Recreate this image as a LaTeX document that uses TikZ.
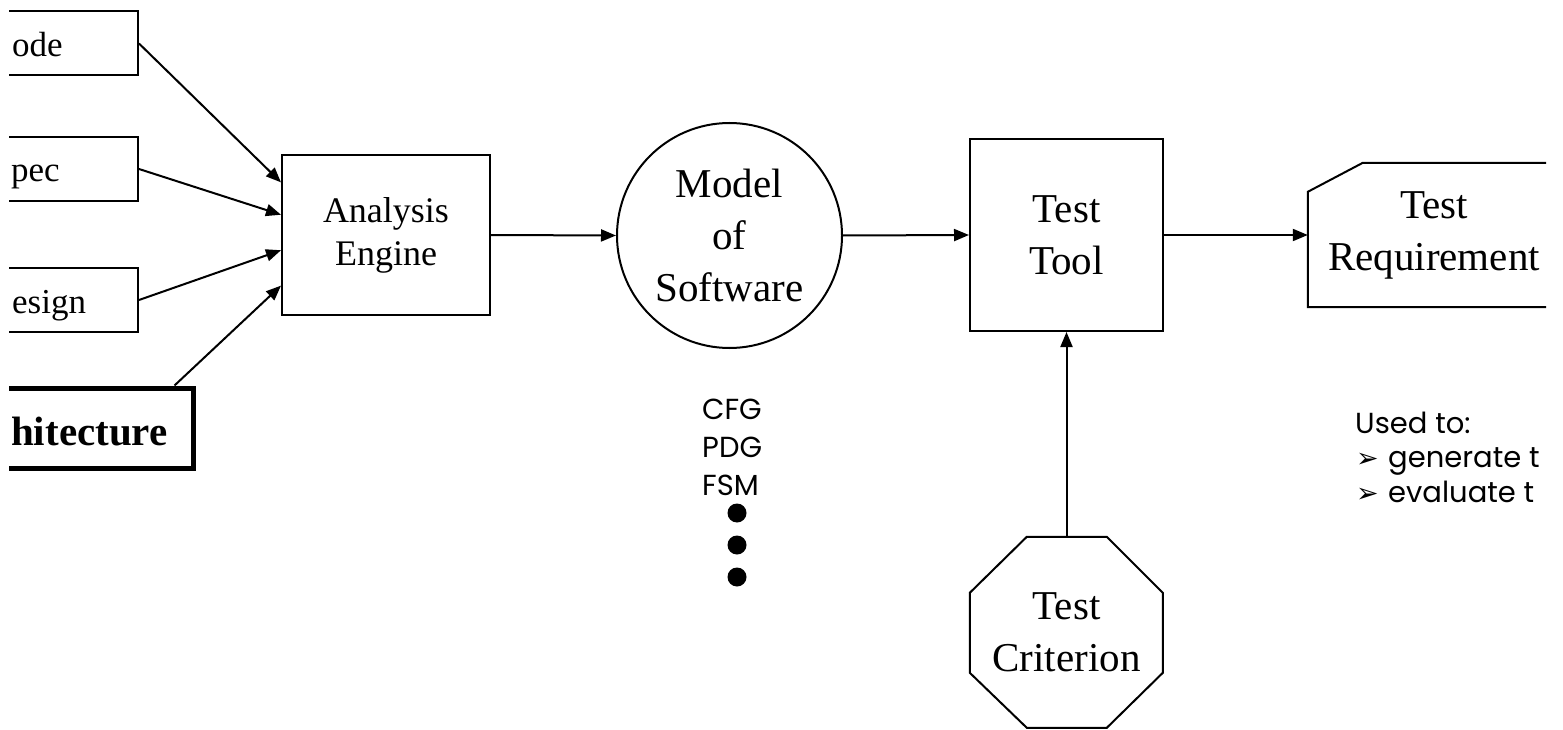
\documentclass[tikz,border=0pt]{standalone}
\usepackage{fontspec}
\setmainfont{Liberation Serif}
\newfontfamily\gothic{Poppins}
\newfontfamily\dingfont{DejaVu Sans}
\usetikzlibrary{arrows.meta,calc}
\begin{document}
\begin{tikzpicture}[x=1pt,y=-1pt,
  box/.style={draw, line width=2pt, inner sep=0pt, align=center},
  srcbox/.style={box, minimum width=224pt, minimum height=64pt},
  srctext/.style={font=\fontsize{35}{42}\selectfont, anchor=base west, inner sep=0pt},
  big/.style={font=\fontsize{41}{52}\selectfont},
  outline/.style={line width=2pt, line join=miter},
  arr/.style={line width=2pt, -{Triangle[length=15pt,width=12pt]}},
  listtext/.style={font=\gothic\fontsize{29}{38}\selectfont, anchor=base west, inner sep=0pt},
  bullet/.style={font=\dingfont\fontsize{27}{27}\selectfont, anchor=base west, inner sep=0pt},
  dot/.style={circle, fill=black, inner sep=0pt, minimum size=19pt},
]
\useasboundingbox (0,0) rectangle (1563,730);
\clip (9,0) rectangle (1546,730);

% sources (their left parts lie outside the picture)
\node[srcbox] (code) at (26,43.5) {};
\node[srcbox] (spec) at (26,169) {};
\node[srcbox] (design) at (26,300) {};
\node[box, line width=5pt, minimum width=272pt, minimum height=80pt] (arch) at (57,428) {};
\node[srctext] (codet) at (12,57) {ode};
\node[srctext] (spect) at (11,182) {pec};
\node[srctext] (designt) at (12,313) {esign};
\node[srctext, font=\bfseries\fontsize{41}{49}\selectfont] (archt) at (11,445) {hitecture};

% main chain
\node[box, minimum width=208pt, minimum height=160pt, font=\fontsize{36}{43}\selectfont] (ae) at (386,235) {Analysis\\Engine};
\node[circle, draw, line width=2pt, inner sep=0pt, minimum size=225pt, align=center, big] (model) at (729.5,235.5) {Model\\of\\Software};
\node[box, big, minimum width=193pt, minimum height=192pt] (tool) at (1066.5,235) {Test\\Tool};
\node[inner sep=0pt, align=center, big, minimum width=252pt, minimum height=144pt] (req) at (1434,235) {Test\\Requirement};
\draw[outline] ($(req.north west)+(0,29)$) -- ($(req.north west)+(55,0)$) -- (req.north east) -- (req.south east) -- (req.south west) -- cycle;
\node[inner sep=0pt, align=center, big, minimum width=193pt, minimum height=191pt] (crit) at (1066.5,632.5) {Test\\Criterion};
\draw[outline] ($(crit.north west)+(57,0)$) -- ($(crit.north west)+(137,0)$)
  -- ($(crit.north west)+(193,56)$) -- ($(crit.north west)+(193,136)$)
  -- ($(crit.north west)+(137,191)$) -- ($(crit.north west)+(57,191)$)
  -- ($(crit.north west)+(0,136)$) -- ($(crit.north west)+(0,56)$) -- cycle;

% connectors
\draw[arr] (code.east) -- ($(ae.north west)!0.175!(ae.south west)$);
\draw[arr] (spec.east) -- ($(ae.north west)!0.375!(ae.south west)$);
\draw[arr] (design.east) -- ($(ae.north west)!0.594!(ae.south west)$);
\draw[arr] ([xshift=-21pt]arch.north east) -- ($(ae.north west)!0.8125!(ae.south west)$);
\draw[arr] (ae.east) -- (model.west);
\draw[arr] (model.east) -- (tool.west);
\draw[arr] (tool.east) -- (req.west);
\draw[arr] (crit.north) -- (tool.south);

% model kinds
\node[listtext] (cfg) at (702,419) {CFG};
\node[listtext] (pdg) at (702,457) {PDG};
\node[listtext] (fsm) at (702,495) {FSM};
\node[dot] (d1) at (737,513) {};
\node[dot] (d2) at (737,545) {};
\node[dot] (d3) at (737,577) {};

% uses
\node[listtext] (used) at (1355,433) {Used to:};
\node[bullet] (b1) at (1356,467) {➢};
\node[listtext] (gen) at (1388,467) {generate t};
\node[bullet] (b2) at (1356,502) {➢};
\node[listtext] (eva) at (1388,502) {evaluate t};
\end{tikzpicture}
\end{document}
